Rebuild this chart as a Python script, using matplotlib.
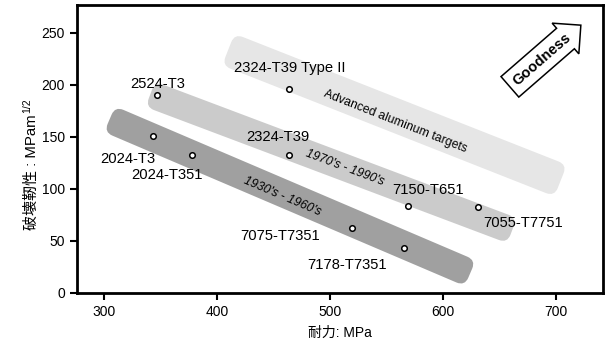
import numpy as np
import matplotlib.pyplot as plt
from matplotlib.patches import FancyBboxPatch
from matplotlib.transforms import Affine2D

plt.rcParams['font.family'] = ['Liberation Sans', 'Noto Sans CJK JP', 'DejaVu Sans']

# alloys: yield strength (MPa) vs fracture toughness (MPa m^1/2)
alloys = ['2524-T3', '2324-T39 Type II', '2024-T3', '2024-T351', '2324-T39',
          '7150-T651', '7055-T7751', '7075-T7351', '7178-T7351']
strength = [347, 464, 343, 378, 464, 569, 631, 519, 565]
toughness = [190, 196, 151, 133, 133, 84, 83, 62, 43]
# label offsets from the point, in pixels
lab_dx = [1, 0, -25, -25, -12, 20, 45, -71, -56]
lab_dy = [11, 21, -23, -20, 18, 16, -16, -8, -17]

# era bands: end points in data units
band_names = ["1930's - 1960's", "1970's - 1990's", "Advanced aluminum targets"]
band_x0 = [305, 341, 410]
band_y0 = [167, 191, 234]
band_x1 = [624, 661, 704]
band_y1 = [19, 60, 108]
band_w = [28, 27, 34]
band_col = ['#a0a0a0', '#cbcbcb', '#e6e6e6']
band_lab_x = [458, 513, 558]
band_lab_y = [93, 120, 165]
band_lab_style = ['italic', 'italic', 'normal']

fig = plt.figure(figsize=(6.05, 3.45), dpi=100)
ax = fig.add_axes([0.127, 0.151, 0.870, 0.835])
ax.set_xlim(276, 741.6)
ax.set_ylim(0, 277)


def draw_band(x0, y0, x1, y1, width, color):
    p0 = ax.transData.transform((x0, y0))
    p1 = ax.transData.transform((x1, y1))
    d = p1 - p0
    length = np.hypot(d[0], d[1])
    ang = np.degrees(np.arctan2(d[1], d[0]))
    c = (p0 + p1) / 2
    box = FancyBboxPatch((-length / 2, -width / 2), length, width,
                         boxstyle='round,pad=0,rounding_size=9',
                         transform=Affine2D().rotate_deg(ang).translate(c[0], c[1]),
                         fc=color, ec='none', zorder=1)
    ax.add_patch(box)
    return ang


for i in range(3):
    ang = draw_band(band_x0[i], band_y0[i], band_x1[i], band_y1[i], band_w[i], band_col[i])
    ax.text(band_lab_x[i], band_lab_y[i], band_names[i], rotation=ang,
            rotation_mode='anchor', ha='center', va='center', fontsize=8.8,
            style=band_lab_style[i], zorder=2)

ax.plot(strength, toughness, 'o', ms=4, mfc='white', mec='black', mew=1.1, zorder=3)
for i in range(len(alloys)):
    ax.annotate(alloys[i], (strength[i], toughness[i]), xytext=(lab_dx[i], lab_dy[i]),
                textcoords='offset pixels', ha='center', va='center', fontsize=10.6, zorder=4)

ax.text(687.5, 225, 'Goodness', rotation=41, ha='center', va='center',
        fontsize=10.5, fontweight='bold', rotation_mode='anchor',
        bbox=dict(boxstyle='rarrow,pad=0.45', fc='white', ec='black', lw=1.1))

ax.set_xticks([300, 400, 500, 600, 700])
ax.set_yticks([0, 50, 100, 150, 200, 250])
ax.tick_params(direction='out', length=5, width=1.5, labelsize=10)
for s in ax.spines.values():
    s.set_linewidth(2)

ax.set_xlabel('耐力: MPa', fontsize=10, labelpad=5)
ax.set_ylabel('破壊靭性 : MPam', fontsize=10.8)
ax.yaxis.set_label_coords(-0.072, 0.42)

# superscript 1/2 at the end of the y label
fig.canvas.draw()
bb = ax.yaxis.label.get_window_extent()
fig.text((bb.x0 - 3) / 605, (bb.y1 + 1) / 345, '1/2', rotation=90,
         ha='left', va='bottom', fontsize=7.5)

fig.savefig('out.png', dpi=100)
